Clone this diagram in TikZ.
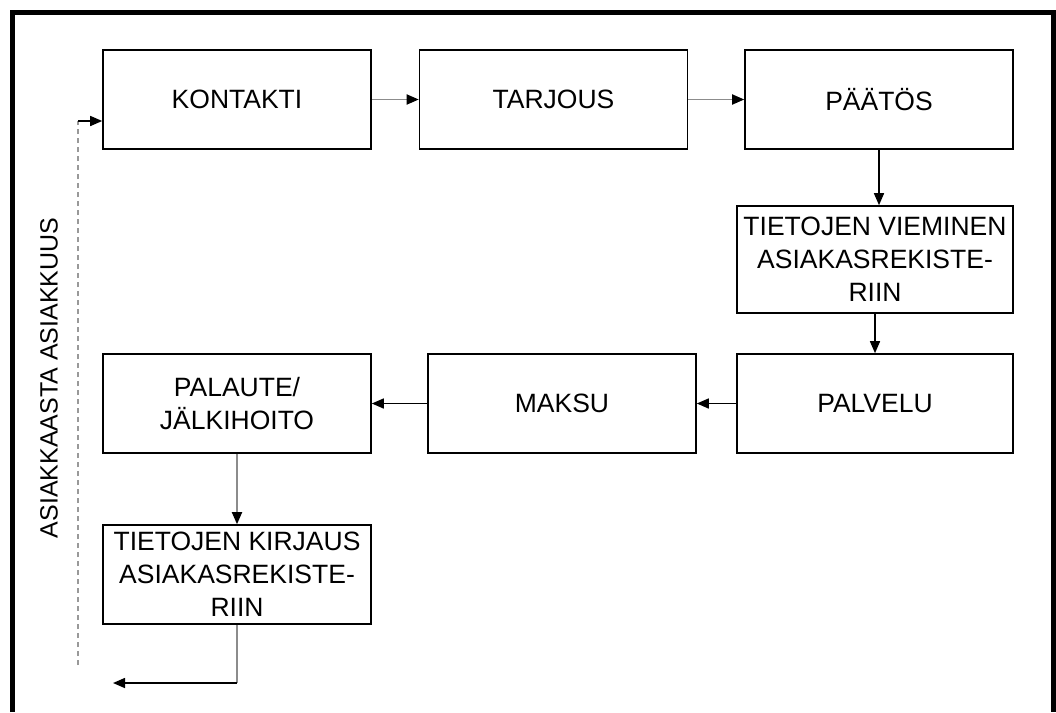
\documentclass[tikz,border=0pt]{standalone}
\usepackage{fontspec}
\setmainfont{Liberation Sans}
\usetikzlibrary{arrows.meta}
\begin{document}
\begin{tikzpicture}[x=1pt,y=-1pt,
  box/.style={draw=black,line width=1.6pt,minimum width=268pt,minimum height=99pt,inner sep=0pt,align=center,font=\fontsize{26.5}{33}\selectfont},
  arr/.style={line width=1.5pt,-{Triangle[length=12pt,width=10pt]}},
  garr/.style={line width=1.8pt,draw=black!45,-{Triangle[length=12pt,width=10pt,fill=black,color=black]}}]
\useasboundingbox (0,0) rectangle (1056,712);
\fill[white] (0,0) rectangle (1056,712);
\draw[line width=5pt] (12.5,712) -- (12.5,12.5) -- (1053.5,12.5) -- (1053.5,712);

\node[box] (kontakti) at (237,99.5) {KONTAKTI};
\node[box] (tarjous) at (553.5,99.5) {TARJOUS};
\node[box] (paatos) at (879,99.5) {PÄÄTÖS};
\node[box,minimum width=276pt,minimum height=107pt] (vieminen) at (875,259.5) {TIETOJEN VIEMINEN\\ASIAKASREKISTE-\\RIIN};
\node[box,minimum width=276pt] (palvelu) at (875,403.5) {PALVELU};
\node[box] (maksu) at (562,403.5) {MAKSU};
\node[box] (palaute) at (237,403.5) {PALAUTE/\\JÄLKIHOITO};
\node[box] (kirjaus) at (237,574.5) {TIETOJEN KIRJAUS\\ASIAKASREKISTE-\\RIIN};

\node[rotate=90,font=\fontsize{25}{30}\selectfont] (label) at (49,378) {ASIAKKAASTA ASIAKKUUS};

\draw[garr] (kontakti) -- (tarjous);
\draw[garr] (tarjous) -- (paatos);
\draw[arr] (paatos) -- (vieminen.north -| paatos);
\draw[arr] (vieminen) -- (palvelu);
\draw[arr] (palvelu) -- (maksu);
\draw[arr] (maksu) -- (palaute);
\draw[garr] (palaute) -- (kirjaus);

\coordinate (bcorner) at (237,683);
\coordinate (bend) at (113,683);
\draw[line width=1.6pt,draw=black!45] (kirjaus.south) -- (bcorner);
\draw[arr] (bcorner) -- (bend);

\coordinate (dbot) at (78,665);
\coordinate (dtop) at (78,121);
\draw[draw=black!40,line width=1.4pt,dash pattern=on 5pt off 4pt] (dbot) -- (dtop);
\draw[arr] (dtop) -- (dtop -| kontakti.west);
\end{tikzpicture}
\end{document}
